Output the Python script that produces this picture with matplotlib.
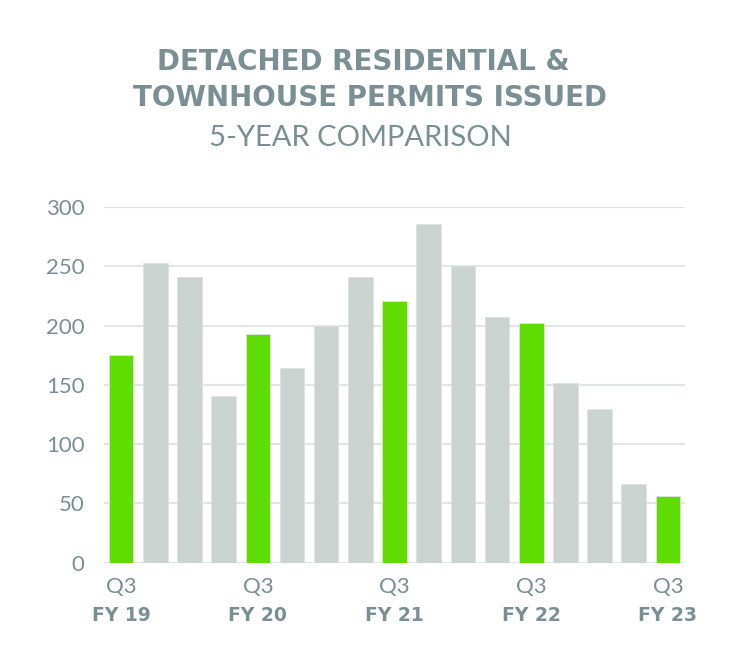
import numpy as np
import matplotlib.pyplot as plt
from matplotlib.transforms import blended_transform_factory

# quarterly permits, FY19 Q3 -> FY23 Q3
permits = [175, 253, 241, 141, 193, 164, 200, 241, 221, 286, 250, 207, 202, 152, 130, 66, 56]
q3_idx = [0, 4, 8, 12, 16]
fy_labels = ["FY 19", "FY 20", "FY 21", "FY 22", "FY 23"]
y_ticks = [0, 50, 100, 150, 200, 250, 300]

green = "#5fdc00"
grey = "#cbd3d0"
txt = "#7a8f94"

fig = plt.figure(figsize=(7.5, 6.7), dpi=100)
ax = fig.add_axes([0.1387, 0.1601, 0.7747, 0.5309])

x = np.arange(len(permits))
colors = [green if i in q3_idx else grey for i in x]
ax.bar(x, permits, width=0.72, color=colors, edgecolor="#dde3e1", linewidth=0.6, zorder=3)

ax.set_xlim(-0.5, 16.5)
ax.set_ylim(0, 300)
ax.set_yticks(y_ticks)
ax.grid(axis="y", color="#e1e5e4", linewidth=1.5, zorder=0)
for s in ax.spines.values():
    s.set_visible(False)
ax.tick_params(axis="y", length=0, pad=14, labelsize=16, labelcolor=txt)
ax.tick_params(axis="x", length=0, pad=10, labelsize=16, labelcolor=txt)
for lab in ax.get_yticklabels():
    lab.set_fontfamily("Lato")

ax.set_xticks(q3_idx)
ax.set_xticklabels(["Q3"] * len(q3_idx), fontfamily="Lato")

trans = blended_transform_factory(ax.transData, ax.transAxes)
for i, lab in zip(q3_idx, fy_labels):
    ax.text(i, -0.148, lab, transform=trans, ha="center", va="center",
            fontsize=13.5, fontweight="bold", color=txt, fontfamily="DejaVu Sans")

fig.text(363 / 750, 1 - 62 / 670, "DETACHED RESIDENTIAL &", ha="center", va="center",
         fontsize=20, fontweight="bold", color=txt)
fig.text(370 / 750, 1 - 98 / 670, "TOWNHOUSE PERMITS ISSUED", ha="center", va="center",
         fontsize=20, fontweight="bold", color=txt)
fig.text(360 / 750, 1 - 138 / 670, "5-YEAR COMPARISON", ha="center", va="center",
         fontsize=21, fontfamily="Lato", color=txt)

fig.savefig("out.png", dpi=100)
